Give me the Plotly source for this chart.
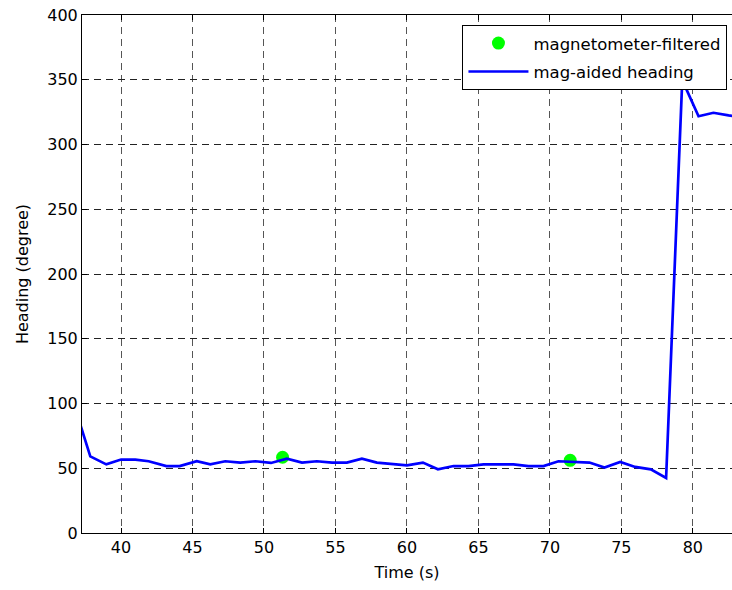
import plotly.graph_objects as go

# mag-aided heading (line)
time_s = [36.8, 37.85, 38.97, 40.0, 41.0, 41.93, 43.17, 44.1, 45.3, 46.24, 47.29,
          48.34, 49.4, 50.49, 51.6, 52.66, 53.7, 54.76, 55.8, 56.85, 57.9, 58.95,
          60.0, 61.12, 62.17, 63.26, 64.3, 65.36, 66.4, 67.45, 68.5, 69.55, 70.6,
          71.68, 72.77, 73.82, 74.92, 75.97, 77.06, 78.13, 79.26, 80.4, 81.44,
          82.5, 83.5]
heading_deg = [96, 59.2, 53.0, 56.7, 56.7, 55.4, 51.7, 51.7, 55.4, 53.0, 55.4,
               54.4, 55.4, 54.1, 57.4, 54.4, 55.4, 54.4, 54.4, 57.4, 54.4, 53.6,
               52.3, 54.4, 49.2, 51.7, 51.7, 53.0, 53.0, 53.0, 51.7, 51.7, 55.4,
               54.8, 54.4, 50.5, 54.8, 51.0, 49.2, 42.5, 349.7, 321.8, 324.5,
               322.5, 321.0]

# magnetometer-filtered (points)
mag_time_s = [51.3, 71.42]
mag_heading_deg = [58.5, 56.1]

x_ticks = [40, 45, 50, 55, 60, 65, 70, 75, 80]
y_ticks = [0, 50, 100, 150, 200, 250, 300, 350, 400]

FONT = "DejaVu Sans"

fig = go.Figure()
fig.add_trace(go.Scatter(
    x=mag_time_s, y=mag_heading_deg, mode="markers",
    marker=dict(color="#00ff00", size=13, line=dict(width=0)),
    name="magnetometer-filtered", legendgroup="a"))
fig.add_trace(go.Scatter(
    x=time_s, y=heading_deg, mode="lines",
    line=dict(color="#0000ff", width=2.7),
    name="mag-aided heading", legendgroup="b"))

axis_common = dict(
    ticks="inside", ticklen=5, tickwidth=1, tickcolor="black",
    showline=True, linecolor="black", linewidth=1,
    showgrid=True, gridwidth=1, griddash="7px,5px",
    zeroline=False,
    tickfont=dict(family=FONT, size=16, color="black"),
)

fig.update_layout(
    width=732, height=590,
    margin=dict(l=82, r=0, t=15, b=57),
    paper_bgcolor="white", plot_bgcolor="white",
    font=dict(family=FONT, size=16, color="black"),
    xaxis=dict(
        range=[37.27, 82.74], tickmode="array", tickvals=x_ticks,
        mirror="ticks", gridcolor="#555555",
        title=dict(text="Time (s)", font=dict(family=FONT, size=16), standoff=10),
        **axis_common),
    yaxis=dict(
        range=[0, 400], tickmode="array", tickvals=y_ticks,
        mirror=False, gridcolor="#222222",
        title=dict(text="Heading (degree)", font=dict(family=FONT, size=16), standoff=14),
        **axis_common),
    legend=dict(
        x=0.993, xanchor="right", y=0.981, yanchor="top",
        bgcolor="white", bordercolor="black", borderwidth=1,
        font=dict(family=FONT, size=16.5, color="black"),
        itemwidth=60, tracegroupgap=4,
    ),
    showlegend=True,
)

fig.write_html("out.html")
